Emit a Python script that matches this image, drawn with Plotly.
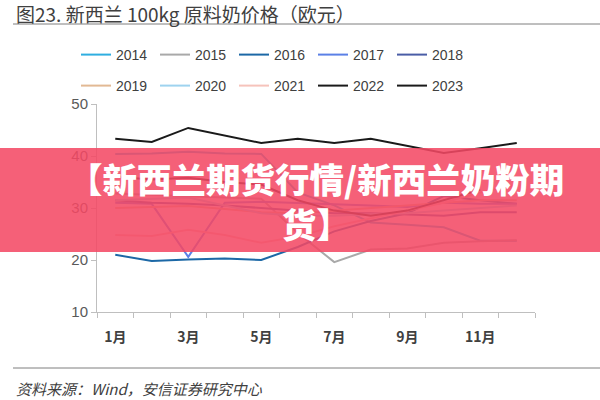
import plotly.graph_objects as go

month_no = [1, 2, 3, 4, 5, 6, 7, 8, 9, 10, 11, 12]
label_months = [1, 3, 5, 7, 9, 11]
label_text = ["1月", "3月", "5月", "7月", "9月", "11月"]
boundaries = [0.5, 1.5, 2.5, 3.5, 4.5, 5.5, 6.5, 7.5, 8.5, 9.5, 10.5, 11.5, 12.5]
y_ticks = [10, 20, 30, 40, 50]

s2014 = [40.4, 40.5, 40.8, 40.5, 40.4, 33.0, 30.5, 27.2, 26.8, 26.3, 23.7, 23.7]
s2015 = [32.8, 32.5, 32.3, 32.0, 31.8, 25.2, 19.6, 22.0, 22.2, 23.3, 23.6, 23.8]
s2016 = [21.0, 19.8, 20.1, 20.3, 20.0, 22.5, 25.5, 27.5, 29.0, 32.3, 31.5, 30.8]
s2017 = [31.0, 30.8, 20.6, 31.0, 31.2, 31.0, 30.8, 30.5, 30.2, 31.0, 30.8, 30.8]
s2018 = [31.5, 31.0, 30.8, 30.5, 30.0, 29.5, 29.0, 29.0, 28.7, 28.5, 29.2, 29.2]
s2019 = [30.0, 30.2, 30.4, 29.8, 29.2, 29.0, 29.5, 30.0, 30.5, 31.0, 31.5, 31.5]
s2020 = [31.5, 31.8, 32.0, 30.5, 29.0, 28.5, 28.5, 28.8, 29.0, 29.5, 30.0, 30.5]
s2021 = [24.8, 24.6, 25.8, 24.8, 23.3, 24.5, 26.5, 28.0, 29.5, 31.0, 33.0, 34.5]
s2022 = [43.3, 42.7, 45.4, 44.0, 42.5, 43.3, 42.5, 43.3, 41.9, 40.6, 41.5, 42.5]
s2023 = [36.0, 35.5, 35.8, 35.0, 34.5, 31.5, 29.5, 28.5, 29.5, 31.5, 33.5, None]

series = [
    ("2014", s2014, "#2FAEE0", "legend"),
    ("2015", s2015, "#A9A9A9", "legend"),
    ("2016", s2016, "#1C68A6", "legend"),
    ("2017", s2017, "#5B80E6", "legend"),
    ("2018", s2018, "#4A5DA6", "legend"),
    ("2019", s2019, "#E2B994", "legend2"),
    ("2020", s2020, "#9ED3EF", "legend2"),
    ("2021", s2021, "#F6C3BB", "legend2"),
    ("2022", s2022, "#1A1A1A", "legend2"),
    ("2023", s2023, "#1A1A1A", "legend2"),
]

W, H = 600, 400
L, R, T, B = 97, 65, 104, 88
PW, PH = W - L - R, H - T - B


def px(x):
    return (x - L) / PW


def py(y):
    return (H - B - y) / PH


FONT = "Liberation Sans, Noto Sans CJK SC, sans-serif"
CJK = "Noto Sans CJK SC, sans-serif"

fig = go.Figure()
for name, vals, color, leg in series:
    fig.add_trace(go.Scatter(
        x=month_no, y=vals, name=name, mode="lines",
        line=dict(color=color, width=2), legend=leg,
    ))

leg_common = dict(
    orientation="h", xanchor="left", yanchor="middle",
    entrywidth=34, entrywidthmode="pixels",
    font=dict(family=FONT, size=14, color="#404040"),
    bgcolor="rgba(0,0,0,0)", itemwidth=30,
)

fig.update_layout(
    width=W, height=H,
    margin=dict(l=L, r=R, t=T, b=B),
    paper_bgcolor="white", plot_bgcolor="white",
    showlegend=True,
    legend=dict(x=px(76), y=py(55), **leg_common),
    legend2=dict(x=px(76), y=py(86), **leg_common),
    xaxis=dict(
        range=[0.5, 12.5], tickvals=label_months, ticktext=label_text,
        ticks="", ticklabelstandoff=12,
        minor=dict(tickvals=boundaries, ticks="outside", ticklen=5,
                   tickcolor="#BFBFBF", showgrid=False),
        showline=True, linecolor="#BFBFBF", linewidth=1,
        showgrid=False, zeroline=False,
        tickfont=dict(family=CJK, size=14, color="#404040", weight=700),
    ),
    yaxis=dict(
        range=[10, 50], tickvals=y_ticks,
        ticks="outside", ticklen=5, tickcolor="#BFBFBF",
        showline=True, linecolor="#BFBFBF", linewidth=1,
        showgrid=False, zeroline=False,
        tickfont=dict(family=FONT, size=15, color="#595959"),
    ),
    shapes=[
        dict(type="line", xref="paper", yref="paper", x0=px(13), x1=px(600),
             y0=py(24), y1=py(24), line=dict(color="#7F7F7F", width=1)),
        dict(type="line", xref="paper", yref="paper", x0=px(13), x1=px(600),
             y0=py(368), y1=py(368), line=dict(color="#7F7F7F", width=1)),
        dict(type="rect", xref="paper", yref="paper", x0=px(0), x1=px(600),
             y0=py(252), y1=py(148), line=dict(width=0),
             fillcolor="rgba(243,72,100,0.87)", layer="above"),
    ],
    annotations=[
        dict(text="图23. 新西兰 100kg 原料奶价格（欧元）", xref="paper", yref="paper",
             x=px(14), y=py(13), xanchor="left", yanchor="middle", showarrow=False,
             font=dict(family=CJK, size=19, color="#404040")),
        dict(text="<i>资料来源：Wind，安信证券研究中心</i>", xref="paper", yref="paper",
             x=px(14), y=py(388), xanchor="left", yanchor="middle", showarrow=False,
             font=dict(family=CJK, size=15, color="#404040")),
        dict(text="【新西兰期货行情/新西兰奶粉期<br>货】", xref="paper", yref="paper",
             x=px(316), y=py(200), xanchor="center", yanchor="middle", showarrow=False,
             align="center",
             font=dict(family=CJK, size=34.5, color="white", weight=900)),
    ],
)

fig.write_html("out.html")
